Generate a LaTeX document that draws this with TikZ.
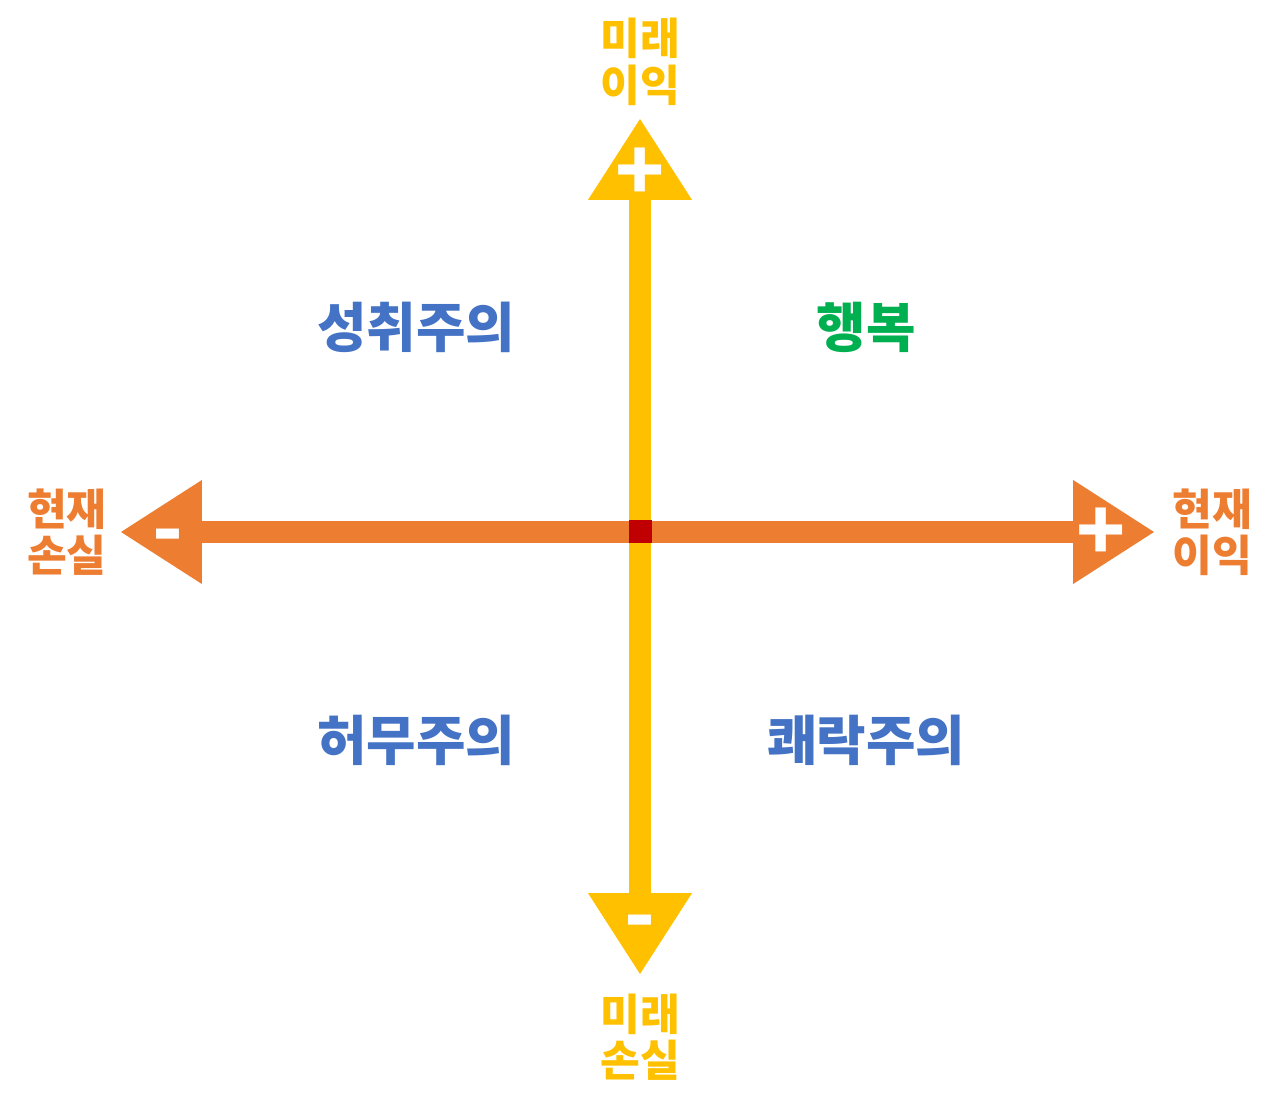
\documentclass[tikz,border=0pt]{standalone}
\usepackage{fontspec}
\newfontfamily\krfont{Noto Sans CJK KR}
\usetikzlibrary{arrows.meta}
\definecolor{axorange}{HTML}{ED7D31}
\definecolor{axyellow}{HTML}{FFC000}
\definecolor{qblue}{HTML}{4472C4}
\definecolor{qgreen}{HTML}{00B050}
\definecolor{cred}{HTML}{C00000}
\begin{document}
\begin{tikzpicture}[
			axis/.style={line width=0.22cm, -{Triangle[length=0.82cm, width=0.98cm]}},
			axlabel/.style={align=center, inner sep=0pt, font=\krfont\bfseries\fontsize{12.3}{13.2}\selectfont},
			quad/.style={inner sep=0pt, text=qblue, font=\krfont\bfseries\fontsize{15.3}{17}\selectfont},
			sign/.style={inner sep=0pt, text=white, font=\krfont\bfseries\fontsize{23}{25}\selectfont},
		]
		\useasboundingbox (-6.40, 5.32) rectangle (6.40, -5.80);
		\coordinate (o) at (0, 0);
		\coordinate (up) at (0, 4.14);
		\coordinate (down) at (0, -4.43);
		\coordinate (left) at (-5.20, 0);
		\coordinate (right) at (5.15, 0);

		% axes
		\draw[axis, axyellow] (o) -- (up);
		\draw[axis, axyellow] (o) -- (down);
		\draw[axis, axorange] (o) -- (left);
		\draw[axis, axorange] (o) -- (right);
		\node[fill=cred, minimum size=0.23cm, inner sep=0pt] (mid) at (o) {};

		% signs in the arrow heads
		\node[sign] (spu) at (0, 3.58) {+};
		\node[sign] (smd) at (0, -3.97) {-};
		\node[sign] (sml) at (-4.72, -0.11) {-};
		\node[sign] (spr) at (4.61, -0.02) {+};

		\node[axlabel, text=axyellow] (lup) at (0, 4.70) {미래\\이익};
		\node[axlabel, text=axyellow] (ldown) at (0, -5.05) {미래\\손실};
		\node[axlabel, text=axorange] (lleft) at (-5.73, 0) {현재\\손실};
		\node[axlabel, text=axorange] (lright) at (5.72, 0) {현재\\이익};

		\node[quad] (q1) at (-2.24, 2.05) {성취주의};
		\node[quad, text=qgreen] (q2) at (2.26, 2.05) {행복};
		\node[quad] (q3) at (-2.24, -2.08) {허무주의};
		\node[quad] (q4) at (2.26, -2.08) {쾌락주의};
	\end{tikzpicture}
\end{document}
